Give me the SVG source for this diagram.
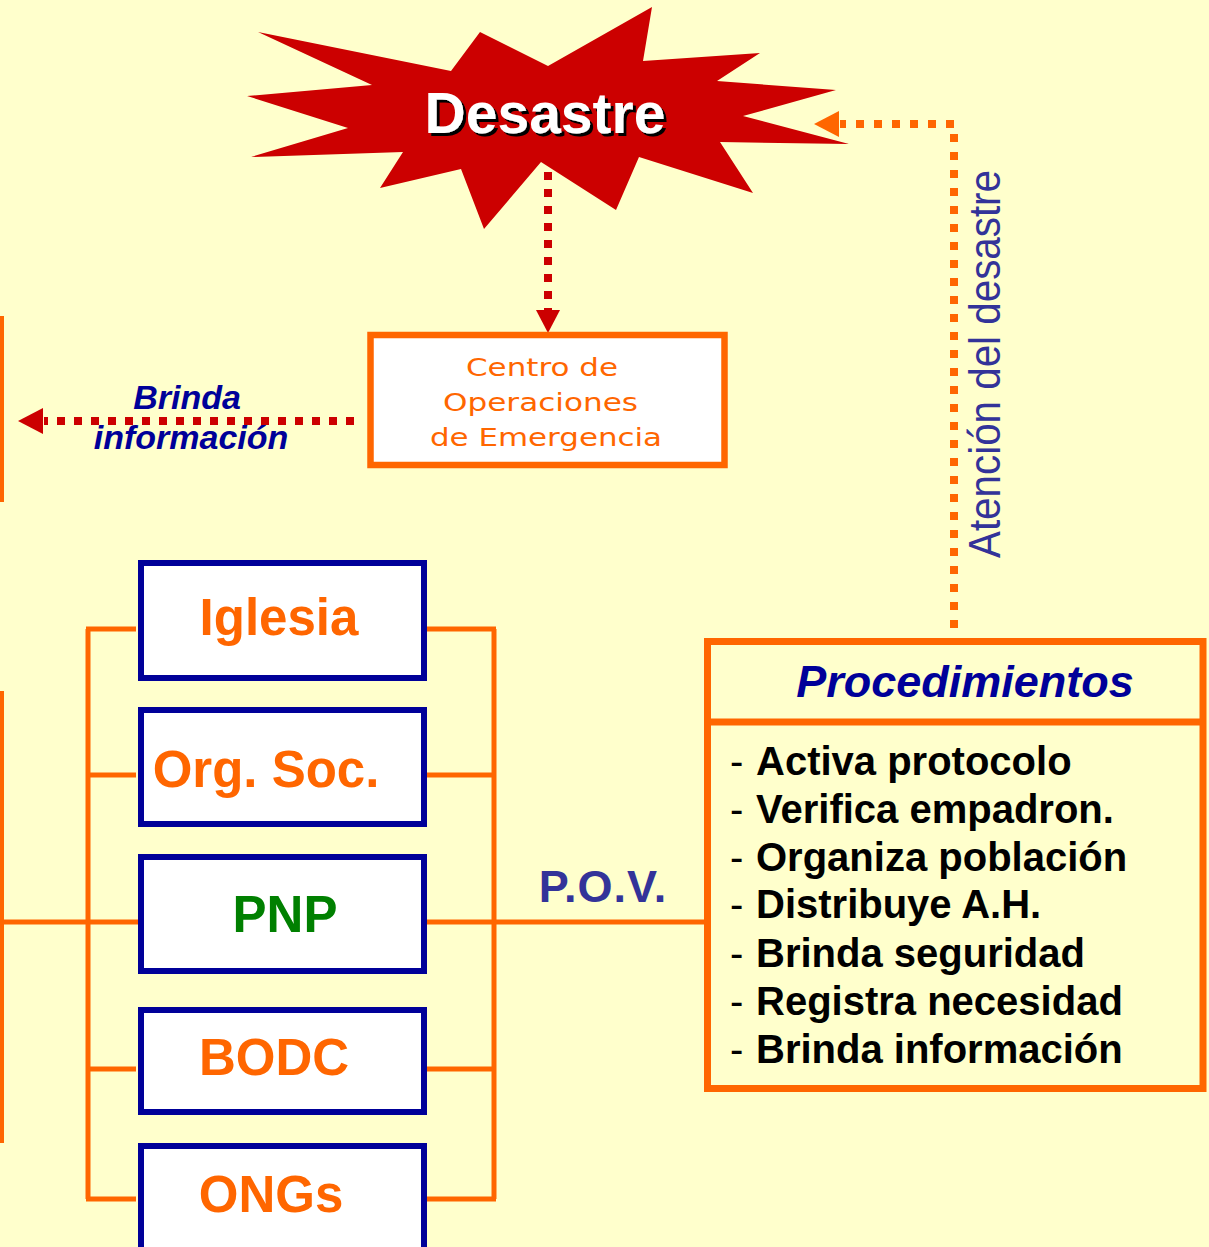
<svg xmlns="http://www.w3.org/2000/svg" width="1209" height="1247" viewBox="0 0 1209 1247">
<style>
.ln{stroke:#FF6600;stroke-width:5;fill:none}
.org{fill:#FFFFFF;stroke:#000099;stroke-width:6}
.lbl{font-family:"Liberation Sans",Arial,sans-serif;font-weight:bold;font-size:51px;text-anchor:middle;fill:#FF6600}
.item{font-family:"Liberation Sans",Arial,sans-serif;font-size:40px;fill:#000000}
.dotred{stroke:#CC0000;stroke-width:8;stroke-dasharray:8 9;fill:none}
.dotorg{stroke:#FF6600;stroke-width:8;stroke-dasharray:8 10;fill:none}
</style>
<defs>
  <filter id="shadow" x="-10%" y="-20%" width="120%" height="150%">
    <feDropShadow dx="3" dy="3" stdDeviation="0" flood-color="#000000" flood-opacity="1"/>
  </filter>
</defs>
<rect x="0" y="0" width="1209" height="1247" fill="#FFFFCC"/>

<g id="connectors">
  <line class="dotred" x1="548" y1="172" x2="548" y2="312"/>
  <polygon points="536,310 560,310 548,333" fill="#CC0000"/>
  <line class="dotred" x1="354" y1="421" x2="44" y2="421"/>
  <polygon points="18,421 43,408 43,434" fill="#CC0000"/>
  <polyline class="dotorg" points="954,628 954,124 840,124"/>
  <polygon points="814,124 839,111 839,137" fill="#FF6600"/>
  <line class="ln" x1="1.5" y1="316" x2="1.5" y2="502" stroke-width="3"/>
  <line class="ln" x1="1.5" y1="691" x2="1.5" y2="1143" stroke-width="3"/>
  <line class="ln" x1="0" y1="922" x2="138" y2="922"/>
  <line class="ln" x1="88" y1="629" x2="88" y2="1199"/>
  <line class="ln" x1="86" y1="629" x2="136" y2="629"/>
  <line class="ln" x1="88" y1="775" x2="136" y2="775"/>
  <line class="ln" x1="88" y1="1069" x2="136" y2="1069"/>
  <line class="ln" x1="86" y1="1199" x2="136" y2="1199"/>
  <line class="ln" x1="494" y1="629" x2="494" y2="1199"/>
  <line class="ln" x1="425" y1="629" x2="496" y2="629"/>
  <line class="ln" x1="425" y1="775" x2="494" y2="775"/>
  <line class="ln" x1="425" y1="922" x2="707" y2="922"/>
  <line class="ln" x1="425" y1="1069" x2="494" y2="1069"/>
  <line class="ln" x1="425" y1="1199" x2="496" y2="1199"/>
  <text x="603" y="902" font-family="Liberation Sans, Arial, sans-serif" font-weight="bold" font-size="45" fill="#333399" text-anchor="middle" letter-spacing="1">P.O.V.</text>
  <text x="187" y="409" font-family="Liberation Sans, Arial, sans-serif" font-weight="bold" font-style="italic" font-size="34" fill="#000099" text-anchor="middle">Brinda</text>
  <text x="191" y="449" font-family="Liberation Sans, Arial, sans-serif" font-weight="bold" font-style="italic" font-size="34" fill="#000099" text-anchor="middle">información</text>
  <text transform="translate(1000,558) rotate(-90)" x="0" y="0" font-family="Liberation Sans Narrow, Liberation Sans, Arial, sans-serif" font-size="45" fill="#333399" textLength="388" lengthAdjust="spacingAndGlyphs">Atención del desastre</text>
</g>

<g id="desastre">
  <polygon points="258,32 451,71 480,32 548,66 652,7 643,61 760,53 717,81 836,90 743,116 849,144 720,142 753,193 639,157 616,210 541,162 484,229 461,169 380,188 403,152 251,157 348,128 247,96 372,85" fill="#CC0000"/>
  <text x="545" y="133" font-family="Liberation Sans, Arial, sans-serif" font-weight="bold" font-size="57" fill="#FFFFFF" text-anchor="middle" filter="url(#shadow)">Desastre</text>
</g>

<g id="ceo">
  <rect x="370.5" y="335" width="354" height="130" fill="#FFFFFF" stroke="#FF6600" stroke-width="6.5"/>
  <g font-family="DejaVu Sans, Verdana, sans-serif" font-size="25" fill="#FF6600">
    <text x="466" y="376" textLength="152" lengthAdjust="spacingAndGlyphs">Centro de</text>
    <text x="443" y="411" textLength="195" lengthAdjust="spacingAndGlyphs">Operaciones</text>
    <text x="430" y="446" textLength="232" lengthAdjust="spacingAndGlyphs">de Emergencia</text>
  </g>
</g>

<g id="iglesia">
  <rect class="org" x="141" y="563" width="283" height="115"/>
  <text class="lbl" x="279" y="635">Iglesia</text>
</g>
<g id="orgsoc">
  <rect class="org" x="141" y="710" width="283" height="114"/>
  <text class="lbl" x="266" y="787">Org. Soc.</text>
</g>
<g id="pnp">
  <rect class="org" x="141" y="857" width="283" height="114"/>
  <text class="lbl" x="285" y="932" style="fill:#008000">PNP</text>
</g>
<g id="bodc">
  <rect class="org" x="141" y="1010" width="283" height="102"/>
  <text class="lbl" x="274" y="1075">BODC</text>
</g>
<g id="ongs">
  <rect class="org" x="141" y="1146" width="283" height="110"/>
  <text class="lbl" x="271" y="1212">ONGs</text>
</g>

<g id="procedimientos">
  <rect x="707.5" y="641.5" width="495.5" height="447" fill="none" stroke="#FF6600" stroke-width="7"/>
  <line x1="707.5" y1="722" x2="1203" y2="722" stroke="#FF6600" stroke-width="7"/>
  <text x="965" y="697" font-family="Liberation Sans, Arial, sans-serif" font-weight="bold" font-style="italic" font-size="45" fill="#000099" text-anchor="middle">Procedimientos</text>
  <g class="item">
    <text x="730" y="775">-</text><text x="756" y="775" font-weight="bold">Activa protocolo</text>
    <text x="730" y="823">-</text><text x="756" y="823" font-weight="bold">Verifica empadron.</text>
    <text x="730" y="871">-</text><text x="756" y="871" font-weight="bold">Organiza población</text>
    <text x="730" y="918">-</text><text x="756" y="918" font-weight="bold">Distribuye A.H.</text>
    <text x="730" y="967">-</text><text x="756" y="967" font-weight="bold">Brinda seguridad</text>
    <text x="730" y="1015">-</text><text x="756" y="1015" font-weight="bold">Registra necesidad</text>
    <text x="730" y="1063">-</text><text x="756" y="1063" font-weight="bold">Brinda información</text>
  </g>
</g>
</svg>
